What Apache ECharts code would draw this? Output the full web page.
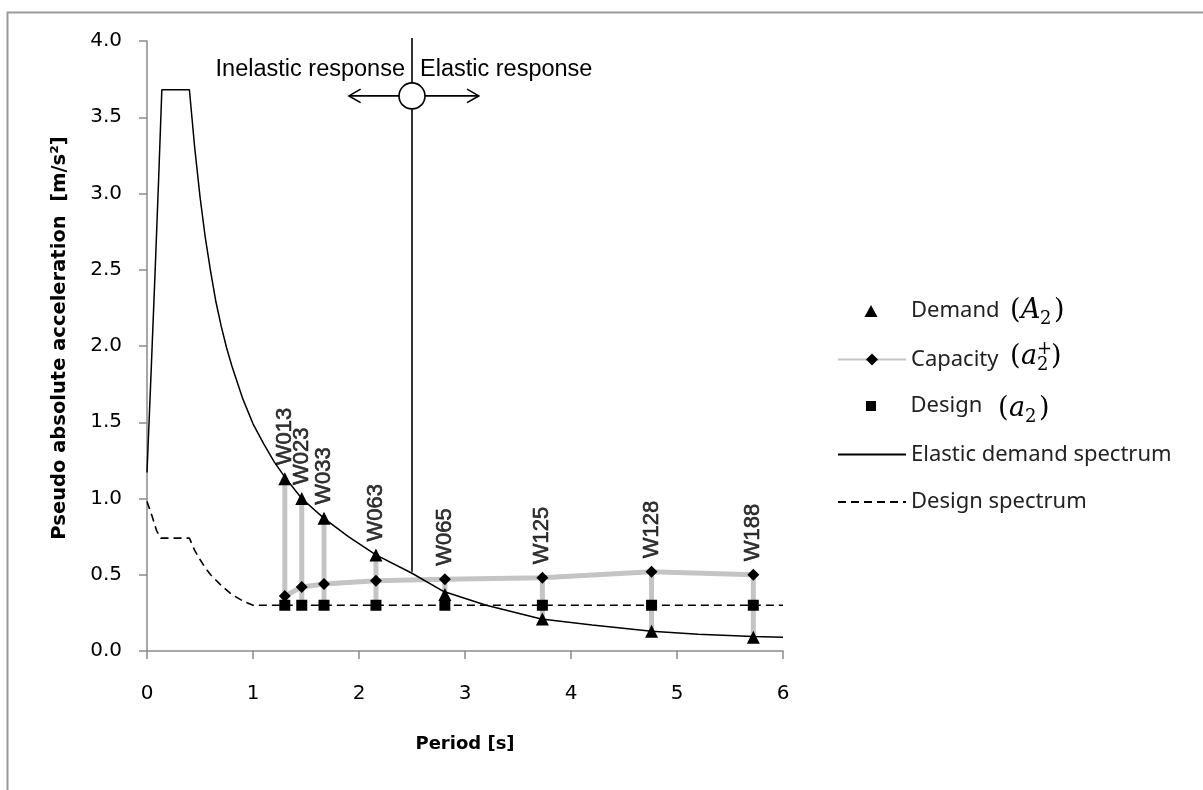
<!DOCTYPE html>
<html>
<head>
<meta charset="utf-8">
<script src="https://cdn.jsdelivr.net/npm/echarts@6/dist/echarts.min.js"></script>
<style>
  html, body { margin: 0; padding: 0; background: #ffffff; }
  #chart { width: 1203px; height: 790px; }
</style>
</head>
<body>
<div id="chart"></div>
<script>
// Walls: fundamental period [s] and accelerations [m/s²]
const wallNames   = ['W013', 'W023', 'W033', 'W063', 'W065', 'W125', 'W128', 'W188'];
const wallPeriod  = [1.30, 1.46, 1.67, 2.16, 2.81, 3.73, 4.76, 5.72];
const demandA2    = [1.13, 1.00, 0.87, 0.63, 0.37, 0.21, 0.13, 0.09];
const capacityA2  = [0.36, 0.42, 0.44, 0.46, 0.47, 0.48, 0.52, 0.50];
const designA2    = [0.30, 0.30, 0.30, 0.30, 0.30, 0.30, 0.30, 0.30];

// Elastic demand spectrum
const elasticT = [0, 0.04, 0.08, 0.11, 0.14, 0.40, 0.45, 0.50, 0.55, 0.60, 0.65, 0.70, 0.75, 0.80, 0.90, 1.00,
                  1.10, 1.20, 1.30, 1.46, 1.67, 1.90, 2.16, 2.50, 2.80, 3.20, 3.72, 4.20, 4.76, 5.20, 5.72, 6.00];
const elasticA = [1.17, 1.85, 2.55, 3.10, 3.68, 3.68, 3.30, 2.98, 2.71, 2.49, 2.29, 2.13, 1.99, 1.87, 1.66, 1.49,
                  1.36, 1.24, 1.14, 1.00, 0.87, 0.75, 0.63, 0.51, 0.39, 0.30, 0.21, 0.17, 0.13, 0.11, 0.095, 0.09];

// Design spectrum
const designSpecT = [0, 0.05, 0.09, 0.13, 0.40, 0.45, 0.50, 0.55, 0.60, 0.70, 0.80, 0.90, 1.00, 6.00];
const designSpecA = [0.98, 0.88, 0.79, 0.74, 0.74, 0.66, 0.60, 0.545, 0.50, 0.43, 0.37, 0.33, 0.30, 0.30];

// Boundary between inelastic and elastic response
const boundaryT      = 2.5;
const boundaryRange  = [0.52, 4.02];
const boundaryMarkA  = 3.64;
const arrowSpanT     = [1.905, 3.13];
const boundaryLabels = ['Inelastic response', 'Elastic response'];

// Axis ticks
const xTicks = { min: 0, max: 6, interval: 1 };
const yTicks = { min: 0, max: 4, interval: 0.5 };

const legendNames = ['Demand', 'Capacity', 'Design', 'Elastic demand spectrum', 'Design spectrum'];

const zip = (a, b) => a.map((v, i) => [v, b[i]]);

const GRAY = '#c4c4c4';
const AXIS = '#8a8a8a';
const SANS_AXIS = '"DejaVu Sans", Verdana, sans-serif';
const SANS_NOTE = '"Liberation Sans", Arial, sans-serif';
const SANS_LEGEND = '"Noto Sans", sans-serif';

const chart = echarts.init(document.getElementById('chart'), null, { renderer: 'canvas' });

// Small math labels placed after the legend entries
function mathLabel(x, y, base, sub, sup) {
  const serif = '"DejaVu Serif", "Liberation Serif", serif';
  const els = [];
  els.push({ type: 'text', left: x, top: y - 15, style: { text: '(', font: '27px ' + serif, fill: '#000' } });
  els.push({ type: 'text', left: x + 11, top: y - 15, style: { text: base, font: 'italic 27px ' + serif, fill: '#000' } });
  const bw = base === 'A' ? 19 : 16;
  els.push({ type: 'text', left: x + 11 + bw, top: y - 2, style: { text: sub, font: '18px ' + serif, fill: '#000' } });
  if (sup) {
    els.push({ type: 'text', left: x + 11 + bw, top: y - 18, style: { text: sup, font: '18px ' + serif, fill: '#000' } });
  }
  els.push({ type: 'text', left: x + 11 + bw + 14, top: y - 15, style: { text: ')', font: '27px ' + serif, fill: '#000' } });
  return els;
}

// Legend text; a leading spacer keeps all entry texts on the same left edge
const legendText = { fontFamily: SANS_LEGEND, fontSize: 22, lineHeight: 24, color: '#222' };
function spacedLegend(spacer) {
  return {
    formatter: name => '{sp| }{t|' + name + '}',
    textStyle: { rich: { sp: { width: spacer, lineHeight: 24 }, t: legendText } }
  };
}

const option = {
  animation: false,
  backgroundColor: '#ffffff',
  grid: { left: 147, right: 420, top: 41, bottom: 139, containLabel: false },
  xAxis: {
    type: 'value',
    min: xTicks.min, max: xTicks.max, interval: xTicks.interval,
    name: 'Period [s]',
    nameLocation: 'middle',
    nameGap: 84,
    nameTextStyle: { fontFamily: SANS_AXIS, fontWeight: 'bold', fontSize: 18, color: '#000' },
    axisLine: { show: true, lineStyle: { color: AXIS, width: 1.5 } },
    axisTick: { show: true, inside: false, length: 8, lineStyle: { color: AXIS, width: 1.5 } },
    axisLabel: { margin: 33, fontFamily: SANS_AXIS, fontSize: 20, color: '#000' },
    splitLine: { show: false }
  },
  yAxis: {
    type: 'value',
    min: yTicks.min, max: yTicks.max, interval: yTicks.interval,
    name: 'Pseudo absolute acceleration  [m/s²]',
    nameLocation: 'middle',
    nameGap: 77,
    nameRotate: 90,
    nameTextStyle: { fontFamily: SANS_AXIS, fontWeight: 'bold', fontSize: 19.5, color: '#000', padding: [0, 0, 0, 16] },
    axisLine: { show: true, lineStyle: { color: AXIS, width: 1.5 } },
    axisTick: { show: true, inside: false, length: 8, lineStyle: { color: AXIS, width: 1.5 } },
    axisLabel: { margin: 25, fontFamily: SANS_AXIS, fontSize: 20, color: '#000',
                 formatter: v => v.toFixed(1) },
    splitLine: { show: false }
  },
  legend: [
    Object.assign({
      left: 859.5, top: 295, itemWidth: 13, itemHeight: 12,
      data: [{ name: legendNames[0], icon: 'triangle' }]
    }, spacedLegend(28.5)),
    {
      left: 832, top: 342.5, itemWidth: 68, itemHeight: 15,
      textStyle: legendText,
      data: [legendNames[1]]
    },
    Object.assign({
      left: 861, top: 390, itemWidth: 10, itemHeight: 10,
      data: [{ name: legendNames[2], icon: 'rect' }]
    }, spacedLegend(29.5)),
    {
      orient: 'vertical',
      left: 832, top: 437.5, itemWidth: 68, itemHeight: 12, itemGap: 23.5,
      textStyle: legendText,
      data: [legendNames[3], legendNames[4]]
    }
  ],
  graphic: [
    // outer chart frame
    { type: 'rect', left: 5, top: 10, shape: { width: 1215, height: 800 },
      style: { fill: 'none', stroke: '#9a9a9a', lineWidth: 2 }, silent: true, z: -10 },
    ...mathLabel(1010, 312, 'A', '2'),
    ...mathLabel(1010, 358, 'a', '2', '+'),
    ...mathLabel(998, 410, 'a', '2')
  ],
  series: [
    {
      // grey bars joining design, capacity and demand of each wall
      type: 'custom',
      name: 'links',
      z: 1,
      silent: true,
      data: wallPeriod.map((t, i) => [t, Math.min(demandA2[i], capacityA2[i], designA2[i]), Math.max(demandA2[i], capacityA2[i], designA2[i])]),
      renderItem: (params, api) => {
        const p1 = api.coord([api.value(0), api.value(1)]);
        const p2 = api.coord([api.value(0), api.value(2)]);
        return { type: 'line', shape: { x1: p1[0], y1: p1[1], x2: p2[0], y2: p2[1] },
                 style: { stroke: GRAY, lineWidth: 5 } };
      }
    },
    {
      name: 'Capacity',
      type: 'line',
      z: 2,
      data: zip(wallPeriod, capacityA2),
      symbol: 'diamond',
      symbolSize: 12,
      itemStyle: { color: '#000' },
      lineStyle: { color: GRAY, width: 5 },
      silent: true
    },
    {
      name: 'Design spectrum',
      type: 'line',
      z: 3,
      data: zip(designSpecT, designSpecA),
      symbol: 'none',
      lineStyle: { color: '#000', width: 1.6, type: [8, 5] },
      itemStyle: { color: 'transparent' },
      silent: true
    },
    {
      name: 'Elastic demand spectrum',
      type: 'line',
      z: 3,
      data: zip(elasticT, elasticA),
      symbol: 'none',
      lineStyle: { color: '#000', width: 1.5 },
      itemStyle: { color: 'transparent' },
      silent: true
    },
    {
      name: 'Design',
      type: 'scatter',
      z: 5,
      data: zip(wallPeriod, designA2),
      symbol: 'rect',
      symbolSize: 11,
      itemStyle: { color: '#000', opacity: 1 },
      silent: true
    },
    {
      name: 'Demand',
      type: 'scatter',
      z: 5,
      data: zip(wallPeriod, demandA2),
      symbol: 'triangle',
      symbolSize: 13,
      itemStyle: { color: '#000', opacity: 1 },
      silent: true
    },
    {
      // wall identifiers above each group
      name: 'wall labels',
      type: 'scatter',
      z: 6,
      symbolSize: 1,
      itemStyle: { color: 'transparent' },
      data: wallNames.map((n, i) => ({ name: n, value: [wallPeriod[i], Math.max(demandA2[i], capacityA2[i])] })),
      label: {
        show: true, position: 'top', distance: 13, rotate: 90,
        align: 'left', verticalAlign: 'middle',
        formatter: p => p.name,
        fontFamily: SANS_NOTE, fontSize: 22, color: '#000',
        textBorderColor: '#000', textBorderWidth: 0.6
      },
      labelLayout: { hideOverlap: false },
      silent: true
    },
    {
      // response boundary with arrows and captions
      type: 'custom',
      name: 'boundary',
      z: 7,
      silent: true,
      clip: false,
      data: [[boundaryT, boundaryRange[0], boundaryRange[1], boundaryMarkA, arrowSpanT[0], arrowSpanT[1]]],
      renderItem: (params, api) => {
        const bot = api.coord([api.value(0), api.value(1)]);
        const top = api.coord([api.value(0), api.value(2)]);
        const c = api.coord([api.value(0), api.value(3)]);
        const l = api.coord([api.value(4), api.value(3)]);
        const r = api.coord([api.value(5), api.value(3)]);
        const st = { stroke: '#000', lineWidth: 1.6, fill: 'none' };
        const ah = 9;
        const font = '23.5px ' + SANS_NOTE;
        return {
          type: 'group',
          children: [
            { type: 'line', shape: { x1: bot[0], y1: bot[1], x2: top[0], y2: top[1] }, style: st },
            { type: 'line', shape: { x1: l[0], y1: l[1], x2: r[0], y2: r[1] }, style: st },
            { type: 'polyline', shape: { points: [[l[0] + ah * 1.3, l[1] - ah * 0.75], [l[0], l[1]], [l[0] + ah * 1.3, l[1] + ah * 0.75]] }, style: st },
            { type: 'polyline', shape: { points: [[r[0] - ah * 1.3, r[1] - ah * 0.75], [r[0], r[1]], [r[0] - ah * 1.3, r[1] + ah * 0.75]] }, style: st },
            { type: 'circle', shape: { cx: c[0], cy: c[1], r: 13 }, style: { fill: '#fff', stroke: '#000', lineWidth: 1.6 } },
            { type: 'text', style: { text: boundaryLabels[0], x: top[0] - 7, y: c[1] - 26, align: 'right', verticalAlign: 'middle', font: font, fill: '#000' } },
            { type: 'text', style: { text: boundaryLabels[1], x: top[0] + 8, y: c[1] - 26, align: 'left', verticalAlign: 'middle', font: font, fill: '#000' } }
          ]
        };
      }
    }
  ]
};

chart.setOption(option);
</script>
</body>
</html>
